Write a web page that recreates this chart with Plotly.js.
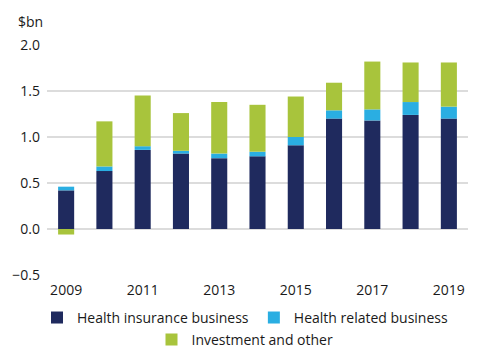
<!DOCTYPE html>
<html>
<head>
<meta charset="utf-8">
<script src="https://cdn.plot.ly/plotly-3.0.1.min.js"></script>
<style>html,body{margin:0;padding:0;background:#fff}#chart{width:500px;height:353px}</style>
</head>
<body>
<div id="chart"></div>
<script>
const years = [2009, 2010, 2011, 2012, 2013, 2014, 2015, 2016, 2017, 2018, 2019];
const healthInsurance = [0.42, 0.63, 0.86, 0.82, 0.77, 0.79, 0.91, 1.20, 1.18, 1.24, 1.20];
const healthRelated = [0.04, 0.05, 0.04, 0.03, 0.05, 0.05, 0.09, 0.09, 0.12, 0.14, 0.13];
const investment = [-0.06, 0.49, 0.55, 0.41, 0.56, 0.51, 0.44, 0.30, 0.52, 0.43, 0.48];
const tickYears = [2009, 2011, 2013, 2015, 2017, 2019];

const font = '"Open Sans", Roboto, sans-serif';
const mk = (name, y, color, leg) => ({
  type: 'bar', name: name, x: years, y: y, legend: leg,
  marker: {color: color, line: {width: 0}}, width: 0.42
});
const data = [
  mk('Health insurance business', healthInsurance, '#1f2a5e', 'legend'),
  mk('Health related business', healthRelated, '#2aaee2', 'legend'),
  mk('Investment and other', investment, '#a8c43c', 'legend2')
];
const legBase = {orientation: 'h', xref: 'container', x: 0.49, xanchor: 'center', yanchor: 'top',
  font: {family: font, size: 14, color: '#1a1a1a'}, traceorder: 'normal',
  itemwidth: 30, bgcolor: 'rgba(0,0,0,0)'};
const layout = {
  width: 500, height: 353,
  margin: {l: 47, r: 32, t: 45, b: 78, autoexpand: false},
  barmode: 'relative',
  paper_bgcolor: '#fff', plot_bgcolor: '#fff',
  font: {family: font, size: 14, color: '#1a1a1a'},
  showlegend: true,
  legend: Object.assign({}, legBase, {y: -0.117}),
  legend2: Object.assign({}, legBase, {y: -0.213}),
  xaxis: {range: [2008.5, 2019.5], tickvals: tickYears, ticktext: tickYears.map(String),
          showgrid: false, zeroline: false, showline: false, ticks: '',
          tickfont: {size: 14}, ticklabelstandoff: 5},
  yaxis: {range: [-0.5, 2.0], dtick: 0.5, tickformat: '.1f', showgrid: true,
          gridcolor: '#dcdcdc', gridwidth: 1.5, zeroline: false, showline: false,
          ticks: '', tickfont: {size: 14}, ticklabelstandoff: 6},
  annotations: [{text: '$bn', xref: 'paper', yref: 'paper', x: -0.073, y: 1.1,
                 xanchor: 'left', yanchor: 'middle', showarrow: false,
                 font: {family: font, size: 14, color: '#1a1a1a'}}]
};
Plotly.newPlot('chart', data, layout, {displayModeBar: false, staticPlot: true});
</script>
</body>
</html>
